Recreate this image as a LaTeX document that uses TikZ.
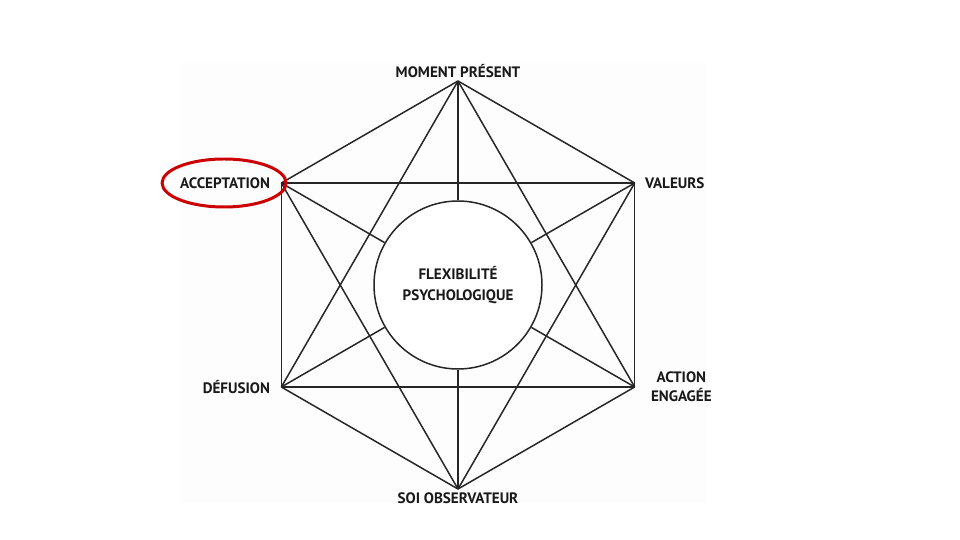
\documentclass[tikz,border=0pt]{standalone}
\usepackage{fontspec}
\setmainfont{PT Sans}
\usetikzlibrary{positioning}

\begin{document}
\begin{tikzpicture}[
    font=\fontsize{8.6}{11}\selectfont\bfseries,
    lbl/.style={inner sep=0pt, text=black!90, align=center},
    link/.style={line width=0.85pt, black!85, line join=round},
    core/.style={draw, circle, line width=0.85pt, black!85, fill=white,
                 minimum size=3.36cm, inner sep=0pt, align=center, text=black!90,
                 font=\fontsize{8.6}{12}\selectfont\bfseries},
    ring/.style={draw=red!80!black, line width=1.7pt},
]

% === Canvas ===
\useasboundingbox (-9.16,-5.1) rectangle (10.04,5.7);
\fill[white] (-9.16,-5.1) rectangle (10.04,5.7);
\fill[black!0.6] (-5.56,-4.36) rectangle (4.96,4.44);

% === Hexagon corners ===
\coordinate (mp)  at (90:4.08);
\coordinate (val) at (30:4.08);
\coordinate (act) at (-30:4.08);
\coordinate (soi) at (-90:4.08);
\coordinate (def) at (210:4.08);
\coordinate (acc) at (150:4.08);

% === Centre ===
\node[core] (flex) at (0,0) {FLEXIBILITÉ\\PSYCHOLOGIQUE};

% === Outer hexagon ===
\draw[link] (mp) -- (val);
\draw[link] (val) -- (act);
\draw[link] (act) -- (soi);
\draw[link] (soi) -- (def);
\draw[link] (def) -- (acc);
\draw[link] (acc) -- (mp);

% === Triangles ===
\draw[link] (mp) -- (act);
\draw[link] (act) -- (def);
\draw[link] (def) -- (mp);
\draw[link] (soi) -- (acc);
\draw[link] (acc) -- (val);
\draw[link] (val) -- (soi);

% === Spokes to the centre ===
\draw[link] (mp) -- (flex);
\draw[link] (soi) -- (flex);
\draw[link] (acc) -- (flex);
\draw[link] (act) -- (flex);
\draw[link] (val) -- (flex);
\draw[link] (def) -- (flex);

% === Labels ===
\node[lbl, anchor=south] (mptxt) at ([yshift=0.06cm]mp) {MOMENT PRÉSENT};
\node[lbl, anchor=north] (soitxt) at ([yshift=-0.06cm]soi) {SOI OBSERVATEUR};
\node[lbl, left=0.22 of acc] (acctxt) {ACCEPTATION};
\node[lbl, left=0.22 of def] (deftxt) {DÉFUSION};
\node[lbl, right=0.2 of val] (valtxt) {VALEURS};
\node[lbl, right=0.32 of act] (acttxt) {ACTION\\ENGAGÉE};

% === Highlight ===
\draw[ring] ([xshift=-0.02cm]acctxt.center) ellipse [x radius=1.24, y radius=0.48];

\end{tikzpicture}
\end{document}
